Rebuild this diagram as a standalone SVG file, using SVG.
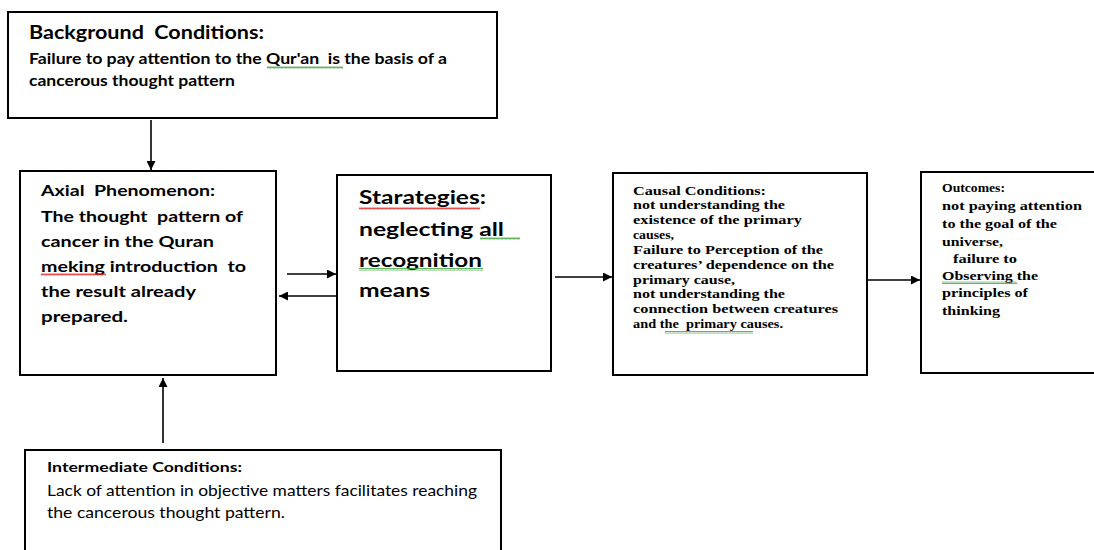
<svg xmlns="http://www.w3.org/2000/svg" width="1094" height="550" viewBox="0 0 1094 550">
<style>
.box{fill:#fff;stroke:#000;stroke-width:2}
.con{stroke:#000;stroke-width:1.6;fill:none}
.cal{font-family:Lato,"Liberation Sans",sans-serif;fill:#000}
.b{font-weight:bold}
.tm{font-family:"Liberation Serif","Times New Roman",serif;font-weight:bold;font-size:13px;fill:#000}
.sqr{fill:url(#sqR)}
.sqg{fill:url(#sqG)}
</style>
<defs>
<marker id="ahL" viewBox="0 0 10 10" refX="10" refY="5" markerWidth="9" markerHeight="9" markerUnits="userSpaceOnUse" orient="auto">
<path d="M0,0 L10,5 L0,10 z" fill="#000"/>
</marker>
<pattern id="sqR" width="4" height="3" patternUnits="userSpaceOnUse">
<path d="M0,2.5 L1,0.5 L2,2.5 L3,0.5 L4,2.5" stroke="#e02020" stroke-width="0.8" fill="none"/>
</pattern>
<pattern id="sqG" width="4" height="3" patternUnits="userSpaceOnUse">
<path d="M0,2.5 L1,0.5 L2,2.5 L3,0.5 L4,2.5" stroke="#3aa03a" stroke-width="0.8" fill="none"/>
</pattern>
</defs>

<g id="connectors">
<line class="con" x1="151" y1="120" x2="151" y2="170" marker-end="url(#ahL)"/>
<line class="con" x1="287" y1="274" x2="336" y2="274" marker-end="url(#ahL)"/>
<line class="con" x1="337" y1="296" x2="279" y2="296" marker-end="url(#ahL)"/>
<line class="con" x1="555" y1="277" x2="612" y2="277" marker-end="url(#ahL)"/>
<line class="con" x1="867" y1="280" x2="920" y2="280" marker-end="url(#ahL)"/>
<line class="con" x1="163" y1="443" x2="163" y2="378" marker-end="url(#ahL)"/>
</g>

<g id="background">
<rect class="box" x="8" y="12" width="489" height="106"/>
<text class="cal b" x="29" y="39" font-size="18" textLength="235" lengthAdjust="spacingAndGlyphs" xml:space="preserve">Background  Conditions:</text>
<text class="cal b" x="29" y="64" font-size="14.5" textLength="418" lengthAdjust="spacingAndGlyphs" xml:space="preserve">Failure to pay attention to the Qur'an  is the basis of a</text>
<text class="cal b" x="29" y="86" font-size="14.5" textLength="206" lengthAdjust="spacingAndGlyphs">cancerous thought pattern</text>
<rect class="sqg" x="267" y="66" width="76" height="3"/>
</g>

<g id="axial">
<rect class="box" x="20" y="171" width="256" height="204"/>
<g class="cal b" font-size="16">
<text x="41" y="196" textLength="174" lengthAdjust="spacingAndGlyphs" xml:space="preserve">Axial  Phenomenon:</text>
<text x="41" y="222" textLength="202" lengthAdjust="spacingAndGlyphs" xml:space="preserve">The thought  pattern of</text>
<text x="41" y="247" textLength="173" lengthAdjust="spacingAndGlyphs">cancer in the Quran</text>
<text x="41" y="272" textLength="205" lengthAdjust="spacingAndGlyphs" xml:space="preserve">meking introduction  to</text>
<text x="41" y="297" textLength="155" lengthAdjust="spacingAndGlyphs">the result already</text>
<text x="41" y="322" textLength="87" lengthAdjust="spacingAndGlyphs">prepared.</text>
</g>
<rect class="sqr" x="41" y="273" width="65" height="3"/>
</g>

<g id="strategies">
<rect class="box" x="337" y="175" width="214" height="196"/>
<g class="cal b" font-size="19">
<text x="359" y="204" textLength="127" lengthAdjust="spacingAndGlyphs">Starategies:</text>
<text x="359" y="236" textLength="145" lengthAdjust="spacingAndGlyphs">neglecting all</text>
<text x="359" y="267" textLength="123" lengthAdjust="spacingAndGlyphs">recognition</text>
<text x="359" y="297" textLength="71" lengthAdjust="spacingAndGlyphs">means</text>
</g>
<rect class="sqr" x="359" y="207" width="121" height="3"/>
<rect class="sqg" x="480" y="237" width="40" height="3"/>
<rect class="sqg" x="359" y="268" width="124" height="3"/>
</g>

<g id="causal">
<rect class="box" x="613" y="173" width="254" height="202"/>
<g class="tm">
<text x="633" y="195" textLength="133" lengthAdjust="spacingAndGlyphs">Causal Conditions:</text>
<text x="633" y="209" textLength="152" lengthAdjust="spacingAndGlyphs">not understanding the</text>
<text x="633" y="224" textLength="169" lengthAdjust="spacingAndGlyphs">existence of the primary</text>
<text x="633" y="239" textLength="41" lengthAdjust="spacingAndGlyphs">causes,</text>
<text x="633" y="254" textLength="190" lengthAdjust="spacingAndGlyphs">Failure to Perception of the</text>
<text x="633" y="269" textLength="201" lengthAdjust="spacingAndGlyphs">creatures’ dependence on the</text>
<text x="633" y="284" textLength="102" lengthAdjust="spacingAndGlyphs">primary cause,</text>
<text x="633" y="298" textLength="152" lengthAdjust="spacingAndGlyphs">not understanding the</text>
<text x="633" y="313" textLength="205" lengthAdjust="spacingAndGlyphs">connection between creatures</text>
<text x="633" y="328" textLength="150" lengthAdjust="spacingAndGlyphs" xml:space="preserve">and the  primary causes.</text>
</g>
<rect class="sqg" x="665" y="331" width="88" height="3"/>
</g>

<g id="outcomes">
<rect class="box" x="921" y="172" width="180" height="201"/>
<g class="tm">
<text x="942" y="192" textLength="63" lengthAdjust="spacingAndGlyphs">Outcomes:</text>
<text x="942" y="210" textLength="140" lengthAdjust="spacingAndGlyphs">not paying attention</text>
<text x="942" y="228" textLength="115" lengthAdjust="spacingAndGlyphs">to the goal of the</text>
<text x="942" y="246" textLength="61" lengthAdjust="spacingAndGlyphs">universe,</text>
<text x="953" y="263" textLength="64" lengthAdjust="spacingAndGlyphs">failure to</text>
<text x="942" y="280" textLength="96" lengthAdjust="spacingAndGlyphs">Observing the</text>
<text x="942" y="297" textLength="86" lengthAdjust="spacingAndGlyphs">principles of</text>
<text x="942" y="315" textLength="58" lengthAdjust="spacingAndGlyphs">thinking</text>
</g>
<rect class="sqg" x="942" y="281" width="75" height="3"/>
</g>

<g id="intermediate">
<rect class="box" x="25" y="450" width="476" height="110"/>
<text class="cal b" x="47" y="472" font-size="13.5" textLength="195" lengthAdjust="spacingAndGlyphs">Intermediate Conditions:</text>
<text class="cal" x="47" y="496" font-size="15" textLength="430" lengthAdjust="spacingAndGlyphs">Lack of attention in objective matters facilitates reaching</text>
<text class="cal" x="47" y="518" font-size="15" textLength="238" lengthAdjust="spacingAndGlyphs">the cancerous thought pattern.</text>
</g>
</svg>
